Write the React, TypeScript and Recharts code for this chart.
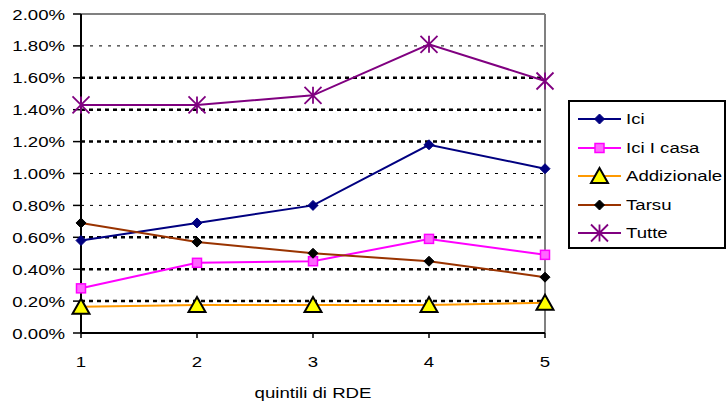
import { LineChart, Line, XAxis, YAxis, ReferenceLine } from "recharts";

const QUINTILI = [1, 2, 3, 4, 5];
const ICI = [0.58, 0.69, 0.8, 1.18, 1.03];
const ICI_CASA = [0.28, 0.44, 0.45, 0.59, 0.49];
const ADDIZIONALE = [0.165, 0.175, 0.175, 0.175, 0.19];
const TARSU = [0.69, 0.57, 0.5, 0.45, 0.35];
const TUTTE = [1.43, 1.43, 1.49, 1.81, 1.58];

const Y_TICKS = [0, 0.2, 0.4, 0.6, 0.8, 1.0, 1.2, 1.4, 1.6, 1.8, 2.0];
const GRID_FINE = [0.8, 1.0, 1.8];
const GRID_BOLD = [0.2, 0.4, 0.6, 1.2, 1.4, 1.6];

const data = QUINTILI.map((q, i) => ({
  q,
  ici: ICI[i],
  iciCasa: ICI_CASA[i],
  addizionale: ADDIZIONALE[i],
  tarsu: TARSU[i],
  tutte: TUTTE[i],
}));

const FONT = "'Liberation Sans', Arial, sans-serif";
const FONT_SIZE = 15.5;
const STRETCH = 1.2;

type MarkerProps = { cx?: number; cy?: number };

function Diamond({ cx = 0, cy = 0, fill }: MarkerProps & { fill: string }) {
  const r = 5;
  return (
    <path
      d={`M${cx},${cy - r} L${cx + r},${cy} L${cx},${cy + r} L${cx - r},${cy} Z`}
      fill={fill}
      stroke={fill}
      strokeWidth={1}
    />
  );
}

function Square({ cx = 0, cy = 0 }: MarkerProps) {
  const r = 4.5;
  return (
    <rect
      x={cx - r}
      y={cy - r}
      width={r * 2}
      height={r * 2}
      fill="#ff66ff"
      stroke="#ff00ff"
      strokeWidth={1.5}
    />
  );
}

function Triangle({ cx = 0, cy = 0 }: MarkerProps) {
  return (
    <path
      d={`M${cx},${cy - 8} L${cx + 8.5},${cy + 7} L${cx - 8.5},${cy + 7} Z`}
      fill="#ffff00"
      stroke="#000"
      strokeWidth={2}
    />
  );
}

function Star({ cx = 0, cy = 0 }: MarkerProps) {
  const r = 8.5;
  return (
    <path
      d={`M${cx - r},${cy - r} L${cx + r},${cy + r} M${cx + r},${cy - r} L${cx - r},${cy + r} M${cx},${cy - r} L${cx},${cy + r}`}
      stroke="#800080"
      strokeWidth={1.8}
      fill="none"
    />
  );
}

const SERIES = [
  { key: "ici", name: "Ici", color: "#000080", marker: (p: MarkerProps) => <Diamond {...p} fill="#000080" /> },
  { key: "iciCasa", name: "Ici I casa", color: "#ff00ff", marker: (p: MarkerProps) => <Square {...p} /> },
  { key: "addizionale", name: "Addizionale", color: "#ff9900", marker: (p: MarkerProps) => <Triangle {...p} /> },
  { key: "tarsu", name: "Tarsu", color: "#993300", marker: (p: MarkerProps) => <Diamond {...p} fill="#000" /> },
  { key: "tutte", name: "Tutte", color: "#800080", marker: (p: MarkerProps) => <Star {...p} /> },
];

function YTick(props: any) {
  const { x, y, payload } = props;
  return (
    <g transform={`translate(${x - 6},${y}) scale(${STRETCH},1)`}>
      <text x={0} y={0} dy="0.36em" textAnchor="end" fontSize={FONT_SIZE} fontFamily={FONT} fill="#000">
        {`${payload.value.toFixed(2)}%`}
      </text>
    </g>
  );
}

function XTick(props: any) {
  const { x, y, payload } = props;
  return (
    <g transform={`translate(${x},${y + 21}) scale(${STRETCH},1)`}>
      <text x={0} y={0} dy="0.36em" textAnchor="middle" fontSize={FONT_SIZE} fontFamily={FONT} fill="#000">
        {payload.value}
      </text>
    </g>
  );
}

function LegendBox() {
  return (
    <div
      style={{
        position: "absolute",
        left: 568,
        top: 100,
        width: 154,
        height: 142,
        border: "2px solid #000",
        background: "#fff",
        paddingTop: 3,
        boxSizing: "content-box",
      }}
    >
      {SERIES.map((s) => (
        <div key={s.key} style={{ display: "flex", alignItems: "center", height: 28.5 }}>
          <svg width={50} height={20} style={{ marginLeft: 6, flexShrink: 0 }}>
            <line x1={2} y1={10} x2={45} y2={10} stroke={s.color} strokeWidth={2} />
            {s.marker({ cx: 23.5, cy: 10 })}
          </svg>
          <span
            style={{
              fontFamily: FONT,
              fontSize: FONT_SIZE,
              color: "#000",
              display: "inline-block",
              transform: `scaleX(${STRETCH})`,
              transformOrigin: "left center",
              whiteSpace: "nowrap",
            }}
          >
            {s.name}
          </span>
        </div>
      ))}
    </div>
  );
}

export default function App() {
  return (
    <div style={{ position: "absolute", left: 0, top: 0, width: 727, height: 405, background: "#fff" }}>
      <LineChart
        width={727}
        height={405}
        data={data}
        margin={{ top: 14, right: 182, bottom: 22, left: 0 }}
      >
        <XAxis
          dataKey="q"
          type="number"
          domain={[1, 5]}
          ticks={QUINTILI}
          interval={0}
          height={50}
          tickSize={5}
          axisLine={{ stroke: "#000", strokeWidth: 2 }}
          tickLine={{ stroke: "#000", strokeWidth: 1.5 }}
          tick={<XTick />}
        />
        <YAxis
          type="number"
          domain={[0, 2]}
          ticks={Y_TICKS}
          interval={0}
          width={81}
          tickSize={8}
          axisLine={{ stroke: "#000", strokeWidth: 2 }}
          tickLine={{ stroke: "#000", strokeWidth: 1.5 }}
          tick={<YTick />}
        />
        {GRID_FINE.map((v) => (
          <ReferenceLine key={`f${v}`} y={v} stroke="#000" strokeWidth={1} strokeDasharray="3 6" />
        ))}
        {GRID_BOLD.map((v) => (
          <ReferenceLine key={`b${v}`} y={v} stroke="#000" strokeWidth={2.5} strokeDasharray="4 4" />
        ))}
        <ReferenceLine y={2} stroke="#808080" strokeWidth={2} />
        <ReferenceLine x={5} stroke="#808080" strokeWidth={2} />
        {SERIES.map((s) => (
          <Line
            key={s.key}
            dataKey={s.key}
            name={s.name}
            stroke={s.color}
            strokeWidth={2}
            isAnimationActive={false}
            dot={(p: any) => <g key={`${s.key}-${p.index}`}>{s.marker({ cx: p.cx, cy: p.cy })}</g>}
            activeDot={false}
          />
        ))}
      </LineChart>
      <LegendBox />
      <div
        style={{
          position: "absolute",
          left: 313,
          top: 393,
          transform: `translate(-50%, -50%) scaleX(${STRETCH})`,
          fontFamily: FONT,
          fontSize: FONT_SIZE,
          color: "#000",
          whiteSpace: "nowrap",
        }}
      >
        quintili di RDE
      </div>
    </div>
  );
}
